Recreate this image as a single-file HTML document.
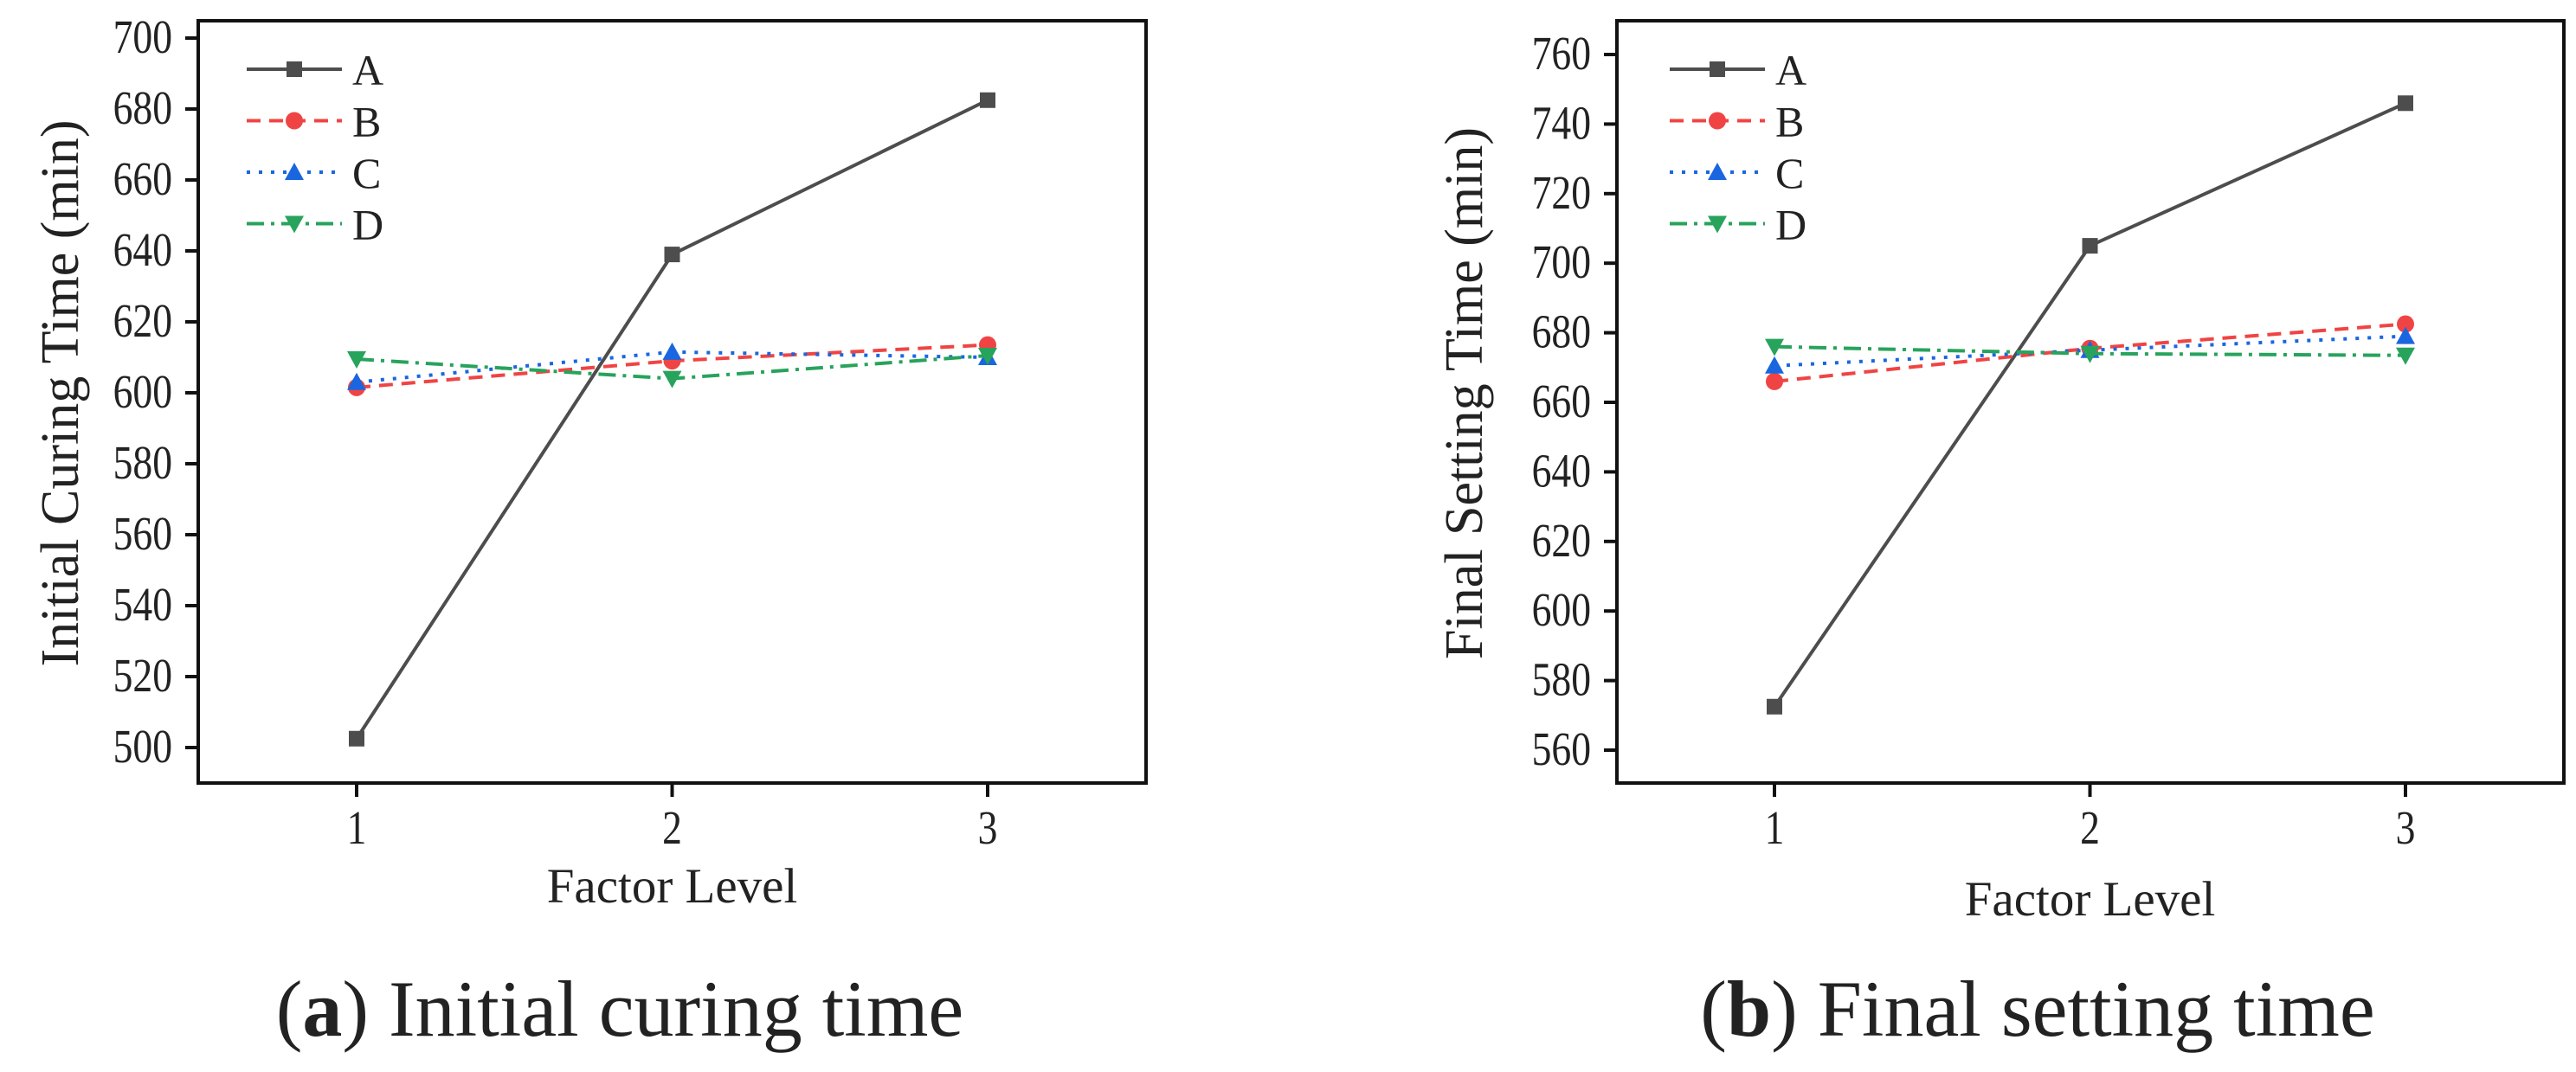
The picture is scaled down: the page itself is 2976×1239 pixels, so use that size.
<!DOCTYPE html>
<html><head><meta charset="utf-8"><style>
html,body{margin:0;padding:0;background:#fff;width:2976px;height:1239px;overflow:hidden}
svg{display:block}
text{font-family:"Liberation Serif",serif;fill:#222}
</style></head><body>
<svg id="fig" width="2976" height="1239" xmlns="http://www.w3.org/2000/svg"></svg>
<script>
const levels = [1, 2, 3];
const seriesNames = ["A", "B", "C", "D"];
const initialA = [502.5, 639, 682.5];
const initialB = [601.5, 609, 613.5];
const initialC = [603, 611.5, 610];
const initialD = [609.5, 604, 610.5];
const finalA = [572.5, 705, 746];
const finalB = [666, 675.5, 682.5];
const finalC = [670.5, 675, 679];
const finalD = [676, 674, 673.5];
const initialTicks = [500, 520, 540, 560, 580, 600, 620, 640, 660, 680, 700];
const finalTicks = [560, 580, 600, 620, 640, 660, 680, 700, 720, 740, 760];

const NS = "http://www.w3.org/2000/svg";
const svg = document.getElementById("fig");
function mk(tag, attrs, parent) {
  const e = document.createElementNS(NS, tag);
  for (const k in attrs) e.setAttribute(k, attrs[k]);
  (parent || svg).appendChild(e);
  return e;
}
const styles = [
  {color: "#4d4d4d", dash: "", marker: "square"},
  {color: "#f04444", dash: "16,10", marker: "circle"},
  {color: "#1a66e0", dash: "4,10", marker: "up"},
  {color: "#27a35c", dash: "20,8,4,8", marker: "down"}
];
function marker(g, type, x, y, color) {
  let m;
  if (type === "square") m = mk("rect", {x: x - 9, y: y - 9, width: 18, height: 18, fill: color}, g);
  else if (type === "circle") m = mk("circle", {cx: x, cy: y, r: 10, fill: color}, g);
  else if (type === "up") m = mk("polygon", {points: `${x},${y - 11} ${x - 11},${y + 9} ${x + 11},${y + 9}`, fill: color}, g);
  else m = mk("polygon", {points: `${x},${y + 11} ${x - 11},${y - 9} ${x + 11},${y - 9}`, fill: color}, g);
  
  
}
function drawChart(cfg) {
  const g = mk("g", {});
  
  
  const xs = v => cfg.x1 + (v - 1) * (cfg.x3 - cfg.x1) / 2;
  const ys = v => cfg.yLo + (v - cfg.vLo) * (cfg.yHi - cfg.yLo) / (cfg.vHi - cfg.vLo);
  const box = mk("rect", {x: cfg.L, y: cfg.T, width: cfg.R - cfg.L, height: cfg.B - cfg.T, fill: "none", stroke: "#111", "stroke-width": 4}, g);
  
  
  cfg.ticks.forEach(t => {
    const y = ys(t);
    const tk = mk("line", {x1: cfg.L - 15, x2: cfg.L, y1: y, y2: y, stroke: "#111", "stroke-width": 4}, g);
    
    
    const tl = mk("text", {transform: `translate(${cfg.L - 30},${y + 17}) scale(0.95,1.15)`, "text-anchor": "end", "font-size": 48}, g);
    tl.textContent = t;
    
    
  });
  levels.forEach(l => {
    const x = xs(l);
    const tk = mk("line", {x1: x, x2: x, y1: cfg.B, y2: cfg.B + 16, stroke: "#111", "stroke-width": 4}, g);
    
    
    const tl = mk("text", {transform: `translate(${x},${cfg.B + 70}) scale(0.95,1.15)`, "text-anchor": "middle", "font-size": 48}, g);
    tl.textContent = l;
    
    
  });
  cfg.series.forEach((vals, i) => {
    const s = styles[i];
    const sg = mk("g", {}, g);
    
    
    const pts = vals.map((v, j) => xs(levels[j]) + "," + ys(v)).join(" ");
    const pl = mk("polyline", {points: pts, fill: "none", stroke: s.color, "stroke-width": 4, "stroke-dasharray": s.dash}, sg);
    
    
    vals.forEach((v, j) => marker(sg, s.marker, xs(levels[j]), ys(v), s.color));
    const ly = cfg.legY + i * 59.5;
    const lg = mk("g", {}, g);
    
    
    mk("line", {x1: cfg.legX, x2: cfg.legX + 110, y1: ly, y2: ly, stroke: s.color, "stroke-width": 4, "stroke-dasharray": s.dash}, lg);
    marker(lg, s.marker, cfg.legX + 55, ly, s.color);
    const lt = mk("text", {x: cfg.legX + 122, y: ly + 18, "font-size": 50}, lg);
    lt.textContent = seriesNames[i];
  });
  const yt = mk("text", {transform: `translate(${cfg.ytX},${(cfg.T + cfg.B) / 2 - 10}) rotate(-90)`, "text-anchor": "middle", "font-size": 62}, g);
  yt.textContent = cfg.ytitle;
  
  
  const xt = mk("text", {x: xs(2), y: cfg.xtY, "text-anchor": "middle", "font-size": 57}, g);
  xt.textContent = "Factor Level";
  
  
  const cap = mk("text", {x: cfg.capX, y: 1197, "text-anchor": "middle", "font-size": 92}, g);
  
  
  cap.appendChild(document.createTextNode("("));
  const b = mk("tspan", {"font-weight": "bold"}, cap);
  b.textContent = cfg.capLetter;
  cap.appendChild(document.createTextNode(") " + cfg.capText));
}
drawChart({name: "chart-initial-curing", L: 229, R: 1324, T: 24, B: 905, x1: 412, x3: 1141,
  vLo: 500, vHi: 700, yLo: 864, yHi: 44, ticks: initialTicks,
  series: [initialA, initialB, initialC, initialD], legX: 285, legY: 80,
  ytX: 90, ytitle: "Initial Curing Time (min)", xtY: 1043,
  capX: 716, capLetter: "a", capText: "Initial curing time"});
drawChart({name: "chart-final-setting", L: 1868, R: 2962, T: 24, B: 905, x1: 2050, x3: 2779,
  vLo: 560, vHi: 760, yLo: 867, yHi: 63, ticks: finalTicks,
  series: [finalA, finalB, finalC, finalD], legX: 1929, legY: 80,
  ytX: 1712, ytitle: "Final Setting Time (min)", xtY: 1058,
  capX: 2354, capLetter: "b", capText: "Final setting time"});
</script>
</body></html>
